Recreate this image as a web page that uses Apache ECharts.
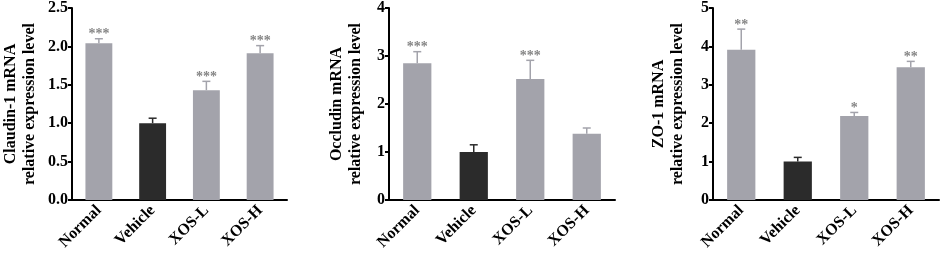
<!DOCTYPE html>
<html><head><meta charset="utf-8">
<script src="https://cdn.jsdelivr.net/npm/echarts@6/dist/echarts.min.js"></script>
<style>html,body{margin:0;padding:0;background:#fff}#c{width:941px;height:256px}</style>
</head><body><div id="c"></div>
<script>
var categories = ['Normal', 'Vehicle', 'XOS-L', 'XOS-H'];
var claudinMean = [2.04, 1.00, 1.43, 1.91];
var claudinErr = [0.06, 0.065, 0.115, 0.10];
var claudinStars = ['***', '', '***', '***'];
var occludinMean = [2.85, 1.00, 2.52, 1.38];
var occludinErr = [0.24, 0.15, 0.39, 0.12];
var occludinStars = ['***', '', '***', ''];
var zoMean = [3.91, 1.00, 2.19, 3.46];
var zoErr = [0.54, 0.11, 0.09, 0.15];
var zoStars = ['**', '', '*', '**'];
var yNames = ['Claudin-1 mRNA\nrelative expression level', 'Occludin mRNA\nrelative expression level', 'ZO-1 mRNA\nrelative expression level'];
var yMax = [2.5, 4, 5];
var yInterval = [0.5, 1, 1];

var panels = [
  {mean: claudinMean, err: claudinErr, stars: claudinStars},
  {mean: occludinMean, err: occludinErr, stars: occludinStars},
  {mean: zoMean, err: zoErr, stars: zoStars}
];
var grids = [
  {left: 66, width: 221, top: 7, bottom: 56},
  {left: 389, width: 226, top: 7, bottom: 56},
  {left: 713, width: 226, top: 7, bottom: 56}
];
var nameGaps = [33, 24, 26];
var GRAY = '#a3a3ab', DARK = '#2b2b2b', FONT = '"Liberation Serif","Times New Roman",serif';

var xAxis = [], yAxis = [], series = [];
panels.forEach(function (p, i) {
  xAxis.push({
    type: 'category', gridIndex: i, data: categories,
    axisLine: {lineStyle: {color: '#000', width: 2}},
    axisTick: {alignWithLabel: true, length: 5, lineStyle: {color: '#000', width: 2}},
    axisLabel: {rotate: 45, margin: 8, color: '#000', fontFamily: FONT, fontWeight: 'bold', fontSize: 16}
  });
  yAxis.push({
    type: 'value', gridIndex: i, min: 0, max: yMax[i], interval: yInterval[i],
    name: yNames[i], nameLocation: 'middle', nameRotate: 90, nameGap: nameGaps[i],
    nameTextStyle: {color: '#000', fontFamily: FONT, fontWeight: 'bold', fontSize: 16, lineHeight: 19},
    splitLine: {show: false},
    axisLine: {show: true, lineStyle: {color: '#000', width: 2}},
    axisTick: {show: true, length: 4, lineStyle: {color: '#000', width: 2}},
    axisLabel: {margin: 4, color: '#000', fontFamily: FONT, fontWeight: 'bold', fontSize: 16,
      formatter: i === 0 ? function (v) { return v.toFixed(1); } : function (v) { return String(v); }}
  });
  series.push({
    type: 'bar', xAxisIndex: i, yAxisIndex: i, barWidth: '50%',
    data: p.mean.map(function (v, k) { return {value: v, itemStyle: {color: k === 1 ? DARK : GRAY}}; })
  });
  series.push({
    type: 'custom', xAxisIndex: i, yAxisIndex: i, z: 1,
    data: p.mean.map(function (v, k) { return [k, v, v + p.err[k], k]; }),
    renderItem: function (params, api) {
      var k = api.value(3);
      var base = api.coord([api.value(0), api.value(1)]);
      var top = api.coord([api.value(0), api.value(2)]);
      var col = k === 1 ? DARK : GRAY;
      var children = [
        {type: 'line', shape: {x1: base[0], y1: base[1], x2: top[0], y2: top[1]}, style: {stroke: col, lineWidth: 1.5}},
        {type: 'line', shape: {x1: top[0] - 4, y1: top[1], x2: top[0] + 4, y2: top[1]}, style: {stroke: col, lineWidth: 1.5}}
      ];
      var s = p.stars[k];
      if (s) {
        children.push({type: 'text', style: {text: s, x: top[0], y: top[1] - 4, align: 'center', verticalAlign: 'middle',
          fill: '#858585', font: 'bold 14px ' + FONT}});
      }
      return {type: 'group', children: children};
    }
  });
});

var chart = echarts.init(document.getElementById('c'), null, {renderer: 'canvas'});
chart.setOption({animation: false, grid: grids, xAxis: xAxis, yAxis: yAxis, series: series});
</script></body></html>
